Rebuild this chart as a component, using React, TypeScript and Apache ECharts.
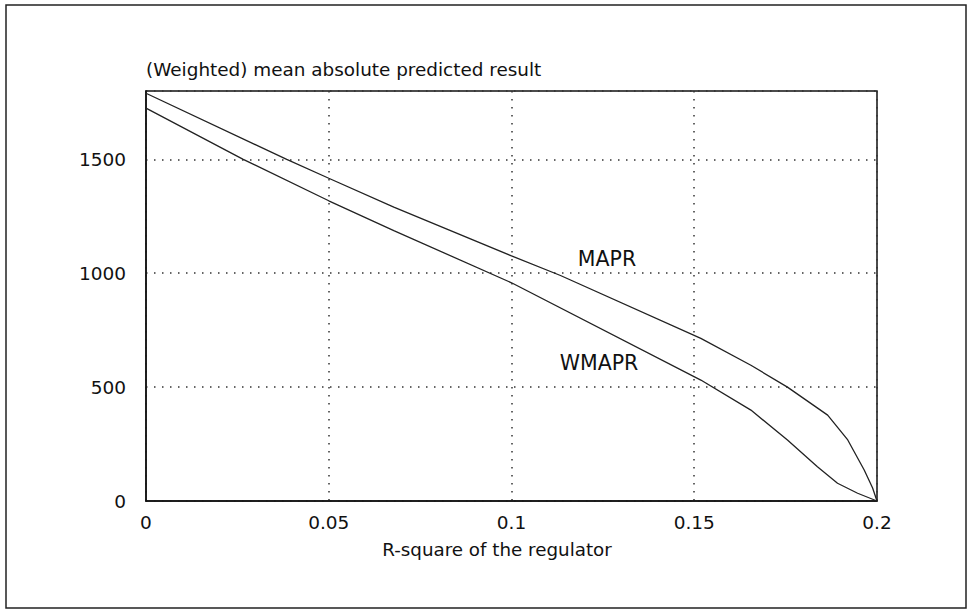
import React, { useEffect, useRef } from "react";
import * as echarts from "echarts";

const maprX = [0, 0.0385, 0.05, 0.0678, 0.1, 0.1134, 0.1518, 0.1655, 0.1755, 0.1865, 0.192, 0.1965, 0.1988, 0.2];
const maprY = [1790, 1500, 1417, 1290, 1076, 990, 714, 596, 500, 377, 268, 136, 57, 0];

const wmaprX = [0, 0.0266, 0.05, 0.0678, 0.1, 0.1518, 0.1655, 0.1755, 0.1837, 0.1892, 0.1947, 0.2];
const wmaprY = [1725, 1500, 1318, 1187, 958, 531, 399, 268, 150, 78, 34, 0];

const yTicks = [0, 500, 1000, 1500];
const titleText = "(Weighted) mean absolute predicted result";
const xName = "R-square of the regulator";
const seriesNames = ["MAPR", "WMAPR"];

const FONT = "DejaVu Sans";

export default function App() {
  const ref = useRef<HTMLDivElement>(null);
  useEffect(() => {
    if (!ref.current) return;
    const chart = echarts.init(ref.current, null, { renderer: "svg" });
    const pairs = (xs: number[], ys: number[]) => xs.map((x, i) => [x, ys[i]]);
    const textStyle = { fontFamily: FONT, fontSize: 18.5, color: "#111" };
    chart.setOption({
      animation: false,
      backgroundColor: "#fff",
      grid: {
        left: 146,
        top: 91,
        right: 92,
        bottom: 109,
        show: true,
        borderColor: "#111",
        borderWidth: 1.5,
        containLabel: false,
      },
      xAxis: {
        type: "value",
        min: 0,
        max: 0.2,
        interval: 0.05,
        axisLine: { show: true, lineStyle: { color: "#111", width: 1.5 } },
        axisTick: { show: false },
        axisLabel: { ...textStyle, margin: 12 },
        splitLine: {
          show: true,
          lineStyle: { color: "#333", width: 1.5, type: [1.5, 6.5] },
        },
      },
      yAxis: {
        type: "value",
        min: 0,
        max: 1800,
        interval: 500,
        axisLine: { show: true, lineStyle: { color: "#111", width: 1.5 } },
        axisTick: { show: false },
        axisLabel: {
          ...textStyle,
          margin: 20,
          padding: [0, 0, 8, 0],
          formatter: (v: number) => (yTicks.includes(v) ? String(v) : ""),
        },
        splitLine: {
          show: true,
          lineStyle: { color: "#333", width: 1.5, type: [1.5, 6.5] },
        },
      },
      series: [
        {
          name: seriesNames[0],
          type: "line",
          data: pairs(maprX, maprY),
          showSymbol: false,
          symbol: "none",
          lineStyle: { color: "#222", width: 1.3 },
        },
        {
          name: seriesNames[1],
          type: "line",
          data: pairs(wmaprX, wmaprY),
          showSymbol: false,
          symbol: "none",
          lineStyle: { color: "#222", width: 1.3 },
        },
      ],
      graphic: [
        {
          type: "rect",
          shape: { x: 6, y: 5, width: 960, height: 603 },
          style: { fill: "none", stroke: "#222", lineWidth: 1.5 },
          silent: true,
        },
        {
          type: "text",
          x: 146,
          y: 69,
          style: {
            text: titleText,
            font: `18.4px "${FONT}"`,
            fill: "#111",
            textVerticalAlign: "middle",
          },
        },
        {
          type: "text",
          x: 497,
          y: 549,
          style: {
            text: xName,
            font: `18.3px "${FONT}"`,
            fill: "#111",
            textAlign: "center",
            textVerticalAlign: "middle",
          },
        },
        {
          type: "text",
          x: 607,
          y: 259,
          style: {
            text: seriesNames[0],
            font: `20.5px "${FONT}"`,
            fill: "#111",
            textAlign: "center",
            textVerticalAlign: "middle",
          },
        },
        {
          type: "text",
          x: 599,
          y: 363,
          style: {
            text: seriesNames[1],
            font: `20.5px "${FONT}"`,
            fill: "#111",
            textAlign: "center",
            textVerticalAlign: "middle",
          },
        },
      ],
    });
    return () => chart.dispose();
  }, []);
  return (
    <div
      ref={ref}
      style={{ position: "fixed", left: 0, top: 0, width: 969, height: 610, background: "#fff" }}
    />
  );
}
